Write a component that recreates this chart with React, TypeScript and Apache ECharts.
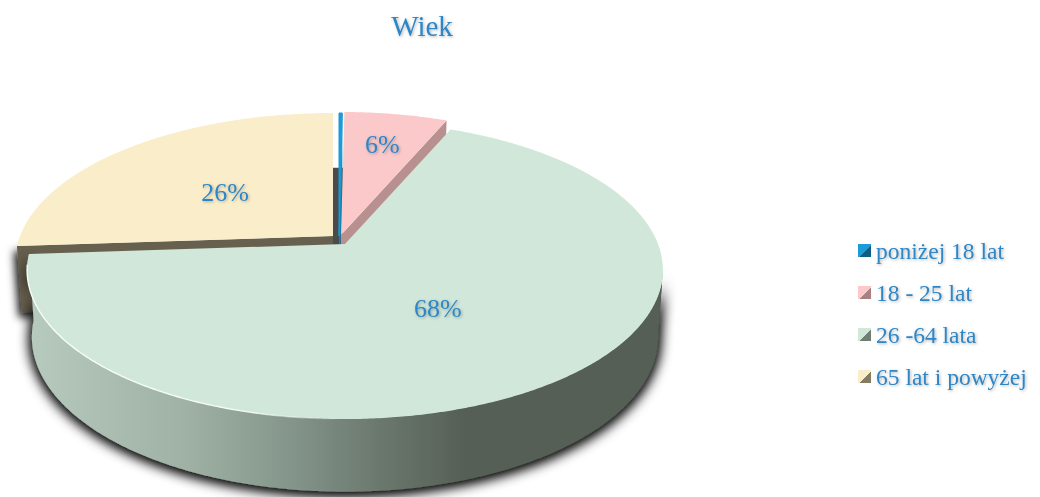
import React, { useEffect, useRef } from "react";
import * as echarts from "echarts";

const titleText = "Wiek";
const categories = ["poniżej 18 lat", "18 - 25 lat", "26 -64 lata", "65 lat i powyżej"];
const values = [0.2, 6.2, 67.5, 26.1];

// styles, per slice
const topColors = ["#1b9bd7", "#fbc9c9", "#d1e7d9", "#faeeca"];
const wallColors = ["#1484b8", "#b99090", "#83948a", "#686150"];
const legendDark = ["#0d5d85", "#a88282", "#6f7f74", "#857d63"];
const offsets = [[-6, -8], [-4, -9], [0, 0], [-12, -8]];
const labelRadius = [0, 0.72, 0.5, 0.5];
const labelNudge = [[0, 0], [0, 0], [-5, 1], [0, 3]];
const zOrder = [2, 3, 4, 1];
const blue = "#2e86c6";
const serif = "'Liberation Serif', 'Times New Roman', serif";

// projection of the tilted disc
const CX = 345, CY = 244, A = 313, B = 144.5, K = 0.1746, DEPTH = 66;
const project = (deg: number, r: number, off: number[]) => {
  const a = (deg * Math.PI) / 180;
  const X = Math.sin(a) * r, Y = -Math.cos(a) * r;
  const w = 1 - K * Y;
  return { x: CX + off[0] + (A * X) / w, y: CY + off[1] + (B * Y) / w, w };
};
const lower = (p: { x: number; y: number; w: number }, off: number[]) => [
  CX + off[0] + (p.x - CX - off[0]) * 0.985,
  p.y + DEPTH / Math.sqrt(p.w),
];
const arc = (from: number, to: number) => {
  const out: number[] = [];
  const n = Math.max(2, Math.ceil(Math.abs(to - from) / 0.5));
  for (let i = 0; i <= n; i++) out.push(from + ((to - from) * i) / n);
  return out;
};

const total = values.reduce((s, v) => s + v, 0);
const angleRange = (i: number) => {
  const before = values.slice(0, i).reduce((s, v) => s + v, 0);
  return [(before / total) * 360, ((before + values[i]) / total) * 360];
};

const shadow = { shadowBlur: 14, shadowOffsetY: 2, shadowColor: "rgba(0,0,0,1)" };
const yellowShadow = { shadowBlur: 9, shadowOffsetX: -3, shadowOffsetY: 5, shadowColor: "rgba(0,0,0,0.9)" };
const textShadow = {
  textShadowColor: "rgba(0,0,0,0.3)",
  textShadowBlur: 3,
  textShadowOffsetX: 1,
  textShadowOffsetY: 1,
};

function renderSlice(i: number) {
  const [start, end] = angleRange(i);
  const off = offsets[i];
  const children: any[] = [];
  const rim = arc(start, end).map((d) => project(d, 1, off));
  const apex = project(0, 0, off);
  const topPts = [[apex.x, apex.y], ...rim.map((p) => [p.x, p.y])];
  const apexDown = [apex.x, apex.y + DEPTH];

  const wallQuad = (p: any) => [[p.x, p.y], [apex.x, apex.y], apexDown, lower(p, off)];

  if (i === 3) {
    // radial wall, with its shadow at the far left
    children.push({
      type: "polygon",
      shape: { points: wallQuad(rim[0]) },
      style: { fill: wallColors[i], ...yellowShadow },
    });
    // dark gap behind the separated slices
    const t = rim[rim.length - 1];
    children.push({
      type: "polygon",
      shape: { points: [[t.x, t.y + DEPTH * 0.83], [t.x + 10, t.y + DEPTH * 0.83], [apex.x + 10, apex.y + 10], [apex.x, apex.y + 10]] },
      style: { fill: "#4b4b4b" },
    });
  } else if (i === 2) {
    const front = arc(100, end).map((d) => project(d, 1, off));
    const wallPts = [...front.map((p) => [p.x, p.y]), ...front.slice().reverse().map((p) => lower(p, off))];
    children.push({
      type: "polygon",
      shape: { points: wallPts },
      style: { fill: "#4b4b4b", ...shadow },
    });
    children.push({
      type: "polygon",
      shape: { points: wallPts },
      style: {
        fill: new echarts.graphic.LinearGradient(30, 0, 470, 0, [
          { offset: 0, color: "#b6cabd" },
          { offset: 0.35, color: "#a0b1a5" },
          { offset: 0.6, color: "#83948a" },
          { offset: 0.8, color: "#6a776d" },
          { offset: 1, color: "#545e54" },
        ], true),
        ...shadow,
      },
    });
  } else {
    children.push({
      type: "polygon",
      shape: { points: wallQuad(rim[rim.length - 1]) },
      style: { fill: wallColors[i] },
    });
  }

  children.push({
    type: "polygon",
    shape: { points: topPts },
    style: i === 0 ? { fill: topColors[i], stroke: topColors[i], lineWidth: 1 } : { fill: topColors[i] },
  });

  if (i === 2) {
    children.push({
      type: "polyline",
      shape: { points: arc(180, 262).map((d) => { const p = project(d, 1, off); return [p.x, p.y]; }) },
      style: {
        stroke: new echarts.graphic.LinearGradient(240, 0, 340, 0, [
          { offset: 0, color: "rgba(246,252,248,1)" },
          { offset: 1, color: "rgba(246,252,248,0)" },
        ], true),
        lineWidth: 1.4,
        fill: "none",
      },
    });
  }

  if (labelRadius[i] > 0) {
    const c = project((start + end) / 2, labelRadius[i], off);
    children.push({
      type: "text",
      style: {
        text: `${Math.round(values[i])}%`,
        x: c.x + labelNudge[i][0],
        y: c.y + labelNudge[i][1],
        align: "center",
        verticalAlign: "middle",
        font: `26px ${serif}`,
        fill: blue,
        ...textShadow,
      },
    });
  }
  return { type: "group", children };
}

export default function App() {
  const ref = useRef<HTMLDivElement>(null);
  useEffect(() => {
    const chart = echarts.init(ref.current!, undefined, { renderer: "svg" });
    chart.setOption({
      animation: false,
      backgroundColor: "#ffffff",
      title: {
        text: titleText,
        left: 417,
        top: 6,
        textAlign: "center",
        textStyle: {
          fontFamily: serif,
          fontSize: 29,
          fontWeight: "normal",
          color: blue,
          ...textShadow,
        },
      },
      legend: {
        orient: "vertical",
        left: 853,
        top: 232,
        itemWidth: 13,
        itemHeight: 13,
        itemGap: 15,
        selectedMode: false,
        data: categories.map((name, i) => ({
          name,
          icon: "rect",
          itemStyle: {
            color: new echarts.graphic.LinearGradient(0, 0, 1, 1, [
              { offset: 0, color: topColors[i] },
              { offset: 0.55, color: topColors[i] },
              { offset: 0.56, color: legendDark[i] },
              { offset: 1, color: legendDark[i] },
            ]),
          },
        })),
        textStyle: {
          fontFamily: serif,
          fontSize: 23.5,
          color: blue,
          lineHeight: 27,
          ...textShadow,
        },
      },
      series: categories.map((name, i) => ({
        type: "custom",
        name,
        coordinateSystem: "none",
        z: zOrder[i],
        silent: true,
        itemStyle: { color: topColors[i] },
        data: [[values[i]]],
        renderItem: () => renderSlice(i),
      })),
    });
    return () => chart.dispose();
  }, []);
  return <div ref={ref} style={{ position: "absolute", left: 0, top: 0, width: 1040, height: 497 }} />;
}
